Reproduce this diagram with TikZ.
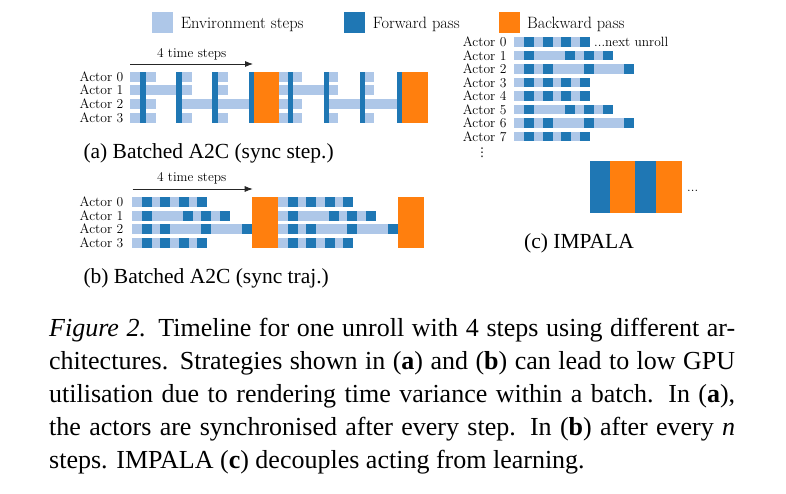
\documentclass[tikz,border=0pt]{standalone}
\usepackage{fontspec}
\newfontfamily\capfont{Liberation Serif}
\newfontfamily\symfont{DejaVu Sans}
\usetikzlibrary{arrows.meta}
\definecolor{envc}{HTML}{AEC7E8}
\definecolor{fwdc}{HTML}{1F77B4}
\definecolor{bwdc}{HTML}{FF7F0E}

% trajectory row: start x, centre y, half height, end offset, dark offsets
\newcommand\TrajRow[5]{%
  \fill[envc] (#1,#2-#3) rectangle (#1+#4,#2+#3);
  \foreach \o in {#5} {\fill[fwdc] (#1+\o,#2-#3) rectangle (#1+\o+10,#2+#3);}
}
\newcommand\RowA[3]{\TrajRow{#1}{#2}{#3}{75.2}{10,28.4,46.8,65.2}}
\newcommand\RowB[3]{\TrajRow{#1}{#2}{#3}{98.2}{10,51,69.6,88.2}}
\newcommand\RowC[3]{\TrajRow{#1}{#2}{#3}{120}{10,28.4,69.2,110}}

% synchronous-step half: start, pre, short, dark width, orange end
\newcommand\SyncHalf[5]{%
  \pgfmathsetmacro\shPz{#1+#2}
  \pgfmathsetmacro\shPa{\shPz+36.2}
  \pgfmathsetmacro\shPb{\shPz+72.4}
  \pgfmathsetmacro\shPc{\shPz+108.6}
  \pgfmathsetmacro\shEz{\shPz+#4+#3}
  \pgfmathsetmacro\shEa{\shPa+#4+#3}
  \pgfmathsetmacro\shEb{\shPb+#4+#3}
  \pgfmathsetmacro\shOc{\shPc+#4}
  % row 0
  \fill[envc] (#1,71.7) rectangle (\shEz,81.7);
  \fill[envc] (\shPa,71.7) rectangle (\shEa,81.7);
  \fill[envc] (\shPb,71.7) rectangle (\shEb,81.7);
  % row 1
  \fill[envc] (#1,85.37) rectangle (\shEa,95.37);
  \fill[envc] (\shPb,85.37) rectangle (\shEb,95.37);
  % row 2
  \fill[envc] (#1,99.04) rectangle (\shEz,109.04);
  \fill[envc] (\shPa,99.04) rectangle (\shPc,109.04);
  % row 3
  \fill[envc] (#1,112.71) rectangle (\shEz,122.71);
  \fill[envc] (\shPa,112.71) rectangle (\shEa,122.71);
  \fill[envc] (\shPb,112.71) rectangle (\shEb,122.71);
  % forward passes
  \foreach \p in {\shPz,\shPa,\shPb,\shPc}
    {\fill[fwdc] (\p,71.7) rectangle (\p+#4,122.71);}
  % backward pass
  \fill[bwdc] (\shOc,71.7) rectangle (#5,122.71);
}

\begin{document}
\begin{tikzpicture}[x=1pt,y=-1pt,
  lab/.style={inner sep=0pt, anchor=base east, font=\fontsize{13.6}{16}\selectfont},
  small/.style={inner sep=0pt, font=\fontsize{13.4}{16}\selectfont},
  legtext/.style={inner sep=0pt, anchor=base west, font=\fontsize{16.4}{19}\selectfont},
  legsq/.style={inner sep=0pt, minimum size=21pt, draw=none},
  subcap/.style={inner sep=0pt, anchor=base west, font=\capfont\fontsize{21.5}{26}\selectfont},
  capline/.style={inner sep=0pt, anchor=base west, font=\capfont\fontsize{26}{33}\selectfont},
  timearrow/.style={draw=black!85, line width=0.8pt, -{Latex[length=8pt,width=6pt]}}]
\useasboundingbox (0,0) rectangle (786,493);
\fill[white] (0,0) rectangle (786,493);

% ---------- legend ----------
\node[legsq, fill=envc] (legEnvSq) at (162.2,22.8) {};
\node[legtext] (legEnv) at (180.7,28.5) {Environment steps};
\node[legsq, fill=fwdc] (legFwdSq) at (354.2,22.8) {};
\node[legtext] (legFwd) at (372.7,28.5) {Forward pass};
\node[legsq, fill=bwdc] (legBwdSq) at (509,22.8) {};
\node[legtext] (legBwd) at (527,28.5) {Backward pass};

% ---------- panel (a) ----------
\coordinate (aArrS) at (130,64);
\coordinate (aArrE) at (253,64);
\draw[timearrow] (aArrS) -- (aArrE);
\node[small, anchor=base] (aSteps) at (191.7,57) {4 time steps};
\foreach \r in {0,1,2,3} {
  \node[lab] (aAct\r) at (123.5,{76.7+13.67*\r+4.6}) {Actor \r};
}
\SyncHalf{130}{10}{10}{5.5}{279}
\SyncHalf{279}{9}{8.5}{5}{428}
\node[subcap] (aCap) at (83.3,158.5) {(a) Batched A2C (sync step.)};

% ---------- panel (b) ----------
\coordinate (bArrS) at (132.7,189);
\coordinate (bArrE) at (252.7,189);
\draw[timearrow] (bArrS) -- (bArrE);
\node[small, anchor=base] (bSteps) at (191.7,181.5) {4 time steps};
\foreach \r in {0,1,2,3} {
  \node[lab] (bAct\r) at (123.5,{202.3+13.5*\r+4.6}) {Actor \r};
}
\foreach \s in {131.7,277.7} {
  \RowA{\s}{202.3}{5}
  \RowB{\s}{215.8}{5}
  \RowC{\s}{229.3}{5}
  \RowA{\s}{242.8}{5}
}
\fill[bwdc] (251.7,197.3) rectangle (278.3,247.8);
\fill[bwdc] (397.7,197.3) rectangle (423.7,247.8);
\node[subcap] (bCap) at (83.3,283.5) {(b) Batched A2C (sync traj.)};

% ---------- panel (c) ----------
\foreach \r in {0,...,7} {
  \node[lab] (cAct\r) at (506.7,{42+13.5*\r+4.6}) {Actor \r};
}
\RowA{514.3}{42}{4.75}
\RowB{514.3}{55.5}{4.75}
\RowC{514.3}{69}{4.75}
\RowA{514.3}{82.5}{4.75}
\RowA{514.3}{96}{4.75}
\RowB{514.3}{109.5}{4.75}
\RowC{514.3}{123}{4.75}
\RowA{514.3}{136.5}{4.75}
\node[small, anchor=base west] (cNext) at (594,46.8) {...next unroll};
\node[inner sep=0pt, font=\symfont\fontsize{12}{14}\selectfont] (cDots) at (482,152.5) {⋮};
\fill[fwdc] (590,161) rectangle (610,213);
\fill[bwdc] (610,161) rectangle (635,213);
\fill[fwdc] (635,161) rectangle (656,213);
\fill[bwdc] (656,161) rectangle (682,213);
\node[small, anchor=base west] (cMore) at (687,191.5) {...};
\node[subcap, anchor=base] (cCap) at (579,248) {(c) IMPALA};

% ---------- caption ----------
\node[capline] (cap1) at (49,336) {\makebox[686pt][s]{\textit{Figure 2.} Timeline for one unroll with 4 steps using different ar-}};
\node[capline] (cap2) at (49,369) {\makebox[686pt][s]{chitectures. Strategies shown in (\textbf{a}) and (\textbf{b}) can lead to low GPU}};
\node[capline] (cap3) at (49,402) {\makebox[686pt][s]{utilisation due to rendering time variance within a batch. In (\textbf{a}),}};
\node[capline] (cap4) at (49,435) {\makebox[686pt][s]{the actors are synchronised after every step. In (\textbf{b}) after every \textit{n}}};
\node[capline] (cap5) at (49,468) {steps. IMPALA (\textbf{c}) decouples acting from learning.};
\end{tikzpicture}
\end{document}
